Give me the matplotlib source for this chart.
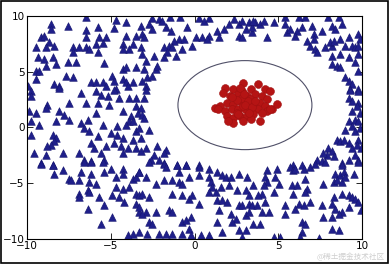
import matplotlib
matplotlib.use('Agg')
from matplotlib import pyplot as plt
from matplotlib.patches import Ellipse, Rectangle

# blue triangles (outer class)
tri = [
    # top left
    (-6.50,9.88),(-4.71,9.64),(-4.11,9.43),(-8.59,9.28),(-7.59,9.13),(-5.80,9.04),(-4.81,8.92),(-8.59,8.83),
    (-6.50,8.74),(-9.18,8.08),(-8.99,8.23),(-5.70,8.08),(-5.30,8.08),(-4.11,8.23),(-3.51,8.23),(-6.50,8.08),
    (-8.69,7.64),(-8.39,7.34),(-5.90,7.49),(-5.50,7.55),(-4.31,7.49),(-3.71,7.49),(-9.48,7.19),(-8.89,7.19),
    (-7.29,7.19),(-6.90,7.19),(-6.50,7.19),(-6.30,7.04),(-7.29,6.74),(-5.80,6.74),(-4.31,7.04),(-3.91,7.04),
    (-9.38,6.29),(-8.99,6.14),(-8.49,6.29),(-7.59,5.84),(-7.09,5.84),(-8.89,5.54),(-8.29,5.69),(-5.40,5.75),
    (-4.31,5.24),(-4.11,5.39),(-3.51,5.39),(-9.48,5.09),(-9.28,5.09),(-7.69,4.64),(-7.29,4.49),(-4.91,4.64),
    (-9.48,4.34),(-6.20,4.04),(-5.90,4.04),(-5.50,4.04),(-5.30,3.74),(-4.81,4.19),(-4.31,4.34),(-4.11,4.04),
    (-3.71,4.04),(-8.39,3.89),(-8.09,3.74),(-9.95,3.74),(-4.71,3.44),(-4.01,3.74),
    # top middle
    (-2.53,9.82),(-2.14,9.73),(-1.94,9.58),(-2.73,9.28),(-3.23,9.13),(-1.74,8.98),(-1.44,8.68),(-2.53,8.83),
    (-0.44,8.98),(0.25,9.82),(0.55,9.58),(0.85,9.82),(-3.13,8.38),(-3.03,8.08),(-0.94,7.93),(-0.64,7.93),
    (-1.24,7.78),(-1.54,7.34),(-1.84,7.19),(-1.34,7.19),(-0.74,7.04),(-0.15,7.34),(0.05,8.08),(0.45,8.08),
    (0.85,8.23),(0.75,7.93),(1.35,8.68),(1.45,8.08),(1.74,8.83),(2.04,9.28),(2.34,9.73),(2.64,9.28),
    (2.84,9.58),(3.04,8.83),(3.24,9.43),(3.44,8.53),(2.64,8.23),(2.84,8.08),(-3.23,7.19),(-3.13,6.59),
    (-2.93,5.99),(-2.43,6.44),(-1.64,6.74),(-1.84,6.29),(-1.14,6.44),(-3.03,5.24),(-2.83,4.49),(-2.53,4.64),
    (-2.33,5.24),(-2.24,5.54),(-3.13,4.19),(-2.93,3.74),(-1.50,9.95),(-0.90,9.95),
    # top right
    (3.61,9.43),(3.91,9.28),(4.11,9.58),(4.71,9.43),(4.31,8.08),(5.41,9.28),(5.50,8.53),(5.70,8.83),
    (6.10,8.68),(6.00,8.23),(6.40,8.98),(6.99,9.13),(7.10,8.38),(7.59,8.68),(8.19,9.13),(8.39,8.83),
    (8.79,9.28),(6.70,7.78),(7.10,7.93),(6.90,7.34),(7.20,7.04),(7.30,6.74),(7.79,7.19),(8.19,7.34),
    (8.09,7.64),(8.29,7.78),(8.69,7.93),(9.19,8.08),(9.78,8.38),(9.88,7.93),(8.99,7.34),(9.39,7.34),
    (9.59,7.19),(9.78,7.34),(8.19,6.44),(8.69,6.59),(9.19,6.29),(8.19,5.69),(8.49,5.54),(8.69,5.39),
    (9.59,5.84),(9.78,6.59),(9.78,5.09),(8.99,4.49),(9.19,4.19),(9.39,3.89),(9.29,3.44),(9.78,3.44),
    (3.42,8.98),(3.51,9.58),(7.99,9.95),(6.20,9.95),(6.60,9.95),(8.59,9.95),(5.41,9.95),
    # middle left
    (-9.78,3.23),(-8.09,3.53),(-6.80,3.08),(-5.90,3.29),(-5.60,2.93),(-5.20,2.78),(-4.81,3.38),(-4.51,2.63),
    (-3.91,2.63),(-3.51,2.63),(-9.78,2.78),(-8.79,2.03),(-8.89,1.73),(-7.49,2.18),(-6.50,2.18),(-5.80,2.18),
    (-5.10,2.03),(-9.88,1.43),(-9.48,1.28),(-8.09,1.43),(-7.79,1.13),(-5.90,1.28),(-4.31,1.43),(-3.51,1.88),
    (-3.41,1.28),(-3.81,0.98),(-3.91,0.54),(-9.78,0.54),(-9.28,0.24),(-8.29,0.54),(-7.49,0.69),(-6.40,0.69),
    (-6.80,0.39),(-6.60,-0.06),(-6.30,-0.36),(-5.50,0.24),(-4.61,0.09),(-4.11,0.24),(-3.71,0.54),(-9.78,-0.66),
    (-8.49,-0.66),(-8.29,-0.96),(-8.39,-1.26),(-8.59,-1.56),(-8.79,-1.71),(-5.80,-0.81),(-5.01,-0.51),(-4.61,-0.66),
    (-4.31,-0.96),(-3.71,-1.11),(-3.51,-0.36),(-6.20,-1.41),(-6.00,-1.86),(-5.30,-1.71),(-4.81,-1.41),(-4.41,-1.71),
    (-4.01,-1.86),(-3.51,-1.86),(-9.58,-2.31),(-8.89,-2.46),(-7.89,-2.31),(-6.90,-2.31),(-5.60,-2.31),(-6.60,-2.91),
    (-6.20,-3.06),(-5.40,-2.91),(-4.31,-2.31),(-9.18,-3.21),(-8.49,-3.36),
    # middle
    (-2.93,3.38),(-3.03,2.63),(-3.23,1.73),(-3.13,1.13),(-3.03,0.83),(-3.33,-0.06),(-2.73,-0.21),(-3.23,-0.96),
    (-2.93,-1.86),(-2.24,-1.71),(-1.74,-2.01),(-1.84,-2.31),(-2.43,-2.46),(-2.14,-2.91),(-2.63,-2.91),(-3.23,-2.16),
    (-1.84,-3.21),(-1.04,-3.36),(-0.54,-3.36),(0.25,-3.36),
    # middle right
    (9.29,3.38),(9.78,3.23),(9.19,2.63),(9.39,2.33),(9.78,2.18),(9.68,1.88),(9.39,1.43),(9.88,1.28),
    (9.19,0.54),(9.59,0.69),(9.78,0.54),(9.39,0.09),(8.99,-0.21),(9.59,-0.36),(9.88,-0.06),(8.49,-1.11),
    (8.69,-1.26),(8.89,-1.11),(9.19,-1.41),(9.39,-1.86),(9.78,-1.11),(9.68,-1.56),(7.99,-1.86),(8.19,-2.16),
    (7.89,-2.46),(7.69,-2.31),(7.30,-2.91),(7.59,-3.06),(8.29,-2.61),(8.79,-3.21),(9.19,-2.91),(9.59,-2.46),
    (9.78,-2.91),(9.95,-1.86),(5.90,-3.36),(6.40,-3.36),
    # bottom left
    (-9.18,-3.27),(-8.49,-3.42),(-8.39,-4.17),(-7.89,-3.87),(-7.49,-4.62),(-7.39,-4.77),(-6.90,-4.77),(-6.80,-4.02),
    (-6.20,-4.17),(-6.30,-4.92),(-5.90,-5.07),(-6.40,-5.67),(-6.30,-5.81),(-6.90,-5.96),(-6.90,-6.26),(-5.70,-6.26),
    (-5.50,-3.12),(-5.40,-4.02),(-5.01,-3.72),(-4.71,-4.47),(-4.31,-3.72),(-4.31,-4.17),(-3.71,-4.62),(-3.51,-4.47),
    (-3.31,-4.02),(-4.71,-5.37),(-4.31,-5.52),(-3.91,-5.37),(-4.91,-6.11),(-4.51,-6.26),(-4.21,-6.71),(-3.51,-5.96),
    (-3.51,-6.86),(-3.31,-6.11),(-5.40,-7.01),(-6.40,-7.31),(-4.91,-8.06),(-5.60,-8.66),(-3.31,-7.61),(-3.71,-9.56),
    (-4.01,-9.71),(-6.60,-3.12),(-6.20,-3.12),
    # bottom middle
    (-2.73,-3.12),(-1.84,-3.27),(-1.74,-3.57),(-1.04,-3.42),(-0.54,-3.42),(0.25,-3.57),(0.85,-3.72),(1.35,-4.02),
    (1.65,-4.32),(1.84,-4.47),(2.14,-4.47),(2.64,-4.17),(3.14,-4.47),(-3.33,-4.02),(-2.93,-4.47),(-2.33,-5.07),
    (-1.84,-4.77),(-1.34,-4.77),(-0.94,-4.92),(-0.74,-5.07),(-0.94,-4.02),(-0.35,-4.47),(0.25,-4.32),(0.85,-4.47),
    (0.95,-4.92),(1.05,-5.37),(0.85,-5.81),(1.25,-5.81),(1.55,-5.37),(2.04,-5.22),(2.54,-5.67),(3.04,-5.67),
    (3.24,-6.11),(-3.13,-5.96),(-2.73,-6.26),(-1.34,-5.96),(-0.74,-6.11),(-0.35,-6.41),(-0.15,-6.11),(0.25,-6.86),
    (1.35,-6.56),(1.65,-6.56),(1.94,-6.71),(2.64,-7.01),(2.84,-7.01),(3.24,-6.86),(-3.33,-7.16),(-2.93,-7.61),
    (-2.33,-7.61),(-1.54,-7.46),(-1.34,-7.61),(-0.74,-8.51),(-0.54,-8.36),(-0.25,-8.06),(1.45,-7.46),(2.14,-7.76),
    (2.44,-8.21),(3.04,-7.91),(3.24,-7.61),(-3.13,-7.76),(-2.73,-8.51),(-2.53,-8.66),(1.35,-8.51),(2.24,-8.51),
    (2.64,-9.26),(3.04,-9.26),(-3.33,-9.41),(-2.83,-9.56),(-2.14,-9.56),(-1.74,-9.56),(-1.34,-9.56),(-0.74,-9.56),
    (-0.35,-9.11),(-0.25,-9.71),(0.35,-9.71),(0.85,-9.71),(1.65,-9.41),(2.84,-9.86),
    # bottom right
    (4.31,-3.87),(4.91,-3.72),(4.21,-4.47),(4.81,-4.47),(4.31,-4.92),(5.01,-5.07),(5.70,-3.57),(5.90,-3.87),
    (6.00,-3.72),(6.50,-3.72),(6.90,-3.57),(7.20,-3.27),(7.79,-3.12),(8.79,-3.42),(9.78,-3.12),(6.60,-4.62),
    (8.39,-4.17),(8.69,-4.32),(8.89,-4.02),(9.49,-4.17),(3.51,-5.22),(4.11,-5.22),(4.71,-5.81),(4.01,-5.96),
    (3.81,-6.11),(5.80,-5.22),(6.10,-5.22),(6.70,-5.52),(5.90,-5.96),(6.60,-5.81),(7.69,-5.07),(8.29,-4.92),
    (8.49,-4.77),(8.79,-4.92),(8.99,-4.47),(3.42,-7.01),(3.71,-7.01),(4.21,-6.71),(4.41,-7.61),(4.01,-7.61),
    (5.41,-7.01),(5.41,-7.76),(6.20,-6.86),(6.50,-7.01),(6.00,-7.31),(6.90,-6.71),(7.59,-7.01),(8.19,-6.86),
    (8.29,-6.26),(8.79,-5.96),(9.19,-6.11),(9.39,-6.26),(9.59,-6.41),(9.78,-6.71),(9.95,-7.46),(8.39,-7.31),
    (8.79,-7.61),(3.51,-8.66),(3.91,-8.66),(6.40,-8.51),(6.60,-8.66),(7.69,-8.06),(8.19,-8.06),(8.59,-7.76),
    (9.19,-7.16),(8.19,-9.11),(8.59,-9.26),(6.40,-9.41),(5.11,-9.86),(4.71,-9.86),(6.30,-9.86),(7.40,-9.95),
]
tri_x = [p[0] for p in tri]
tri_y = [p[1] for p in tri]

# red circles (inner class)
dot_x = [2.90, 1.80, 2.30, 2.80, 3.39, 3.79, 4.19, 4.49, 1.70, 2.10, 2.60, 3.10, 3.59, 3.99, 4.29,
         1.21, 1.50, 1.90, 2.30, 2.70, 3.10, 3.49, 3.89, 4.19, 4.59, 4.89, 1.40, 1.80, 2.20, 2.60,
         3.00, 3.39, 3.79, 4.29, 1.90, 2.30, 2.70, 3.10, 3.49, 3.99, 2.30, 2.90, 3.39, 3.89, 2.00,
         2.50, 2.90, 3.30, 2.70, 4.49, 2.80, 3.20, 2.50, 3.00, 3.40, 2.60, 3.60, 2.20, 2.95, 3.25]
dot_y = [4.01, 3.56, 3.41, 3.26, 3.41, 3.86, 3.41, 3.26, 3.11, 2.81, 2.96, 2.81, 2.96, 2.81, 2.51,
         1.77, 1.92, 2.21, 2.06, 2.36, 2.21, 2.06, 2.21, 1.92, 1.62, 2.06, 1.62, 1.47, 1.62, 1.62,
         1.62, 1.47, 1.62, 1.47, 1.02, 0.87, 1.02, 1.02, 1.17, 1.32, 0.42, 0.57, 0.72, 0.57, 0.57,
         1.32, 1.92, 2.51, 3.56, 1.62, 2.60, 2.40, 2.50, 2.00, 1.80, 1.20, 2.40, 2.70, 3.00, 1.30]

fig = plt.figure(figsize=(3.89, 2.64), dpi=100)
ax = fig.add_axes([0.070, 0.096, 0.861, 0.843])

ax.scatter(tri_x, tri_y, marker='^', s=30, c='#1f1f8a', edgecolors='#14146e', linewidths=0.4, zorder=2)
ax.scatter(dot_x, dot_y, marker='o', s=32, c='#b51414', edgecolors='#a01010', linewidths=0.4, zorder=3)
ax.add_patch(Ellipse((3, 2), 8, 8, fill=False, edgecolor='#505068', linewidth=0.8, zorder=1))

ax.set_xlim(-10, 10)
ax.set_ylim(-10, 10)
ax.set_xticks([-10, -5, 0, 5, 10])
ax.set_yticks([-10, -5, 0, 5, 10])
ax.tick_params(axis='both', direction='in', top=True, right=True, length=4, width=0.6,
               labelsize=7.5, pad=2)
for sp in ax.spines.values():
    sp.set_linewidth(0.8)

# outer frame of the picture
fig.patches.append(Rectangle((0.002, 0.003), 0.996, 0.994, transform=fig.transFigure,
                             fill=False, edgecolor='black', linewidth=1.2))
fig.text(0.99, 0.012, '@稀土掘金技术社区', ha='right', va='bottom', fontsize=5.5, color='#cfcfcf',
         family=['Noto Sans CJK SC', 'DejaVu Sans'])

fig.savefig('out.png', dpi=100)
